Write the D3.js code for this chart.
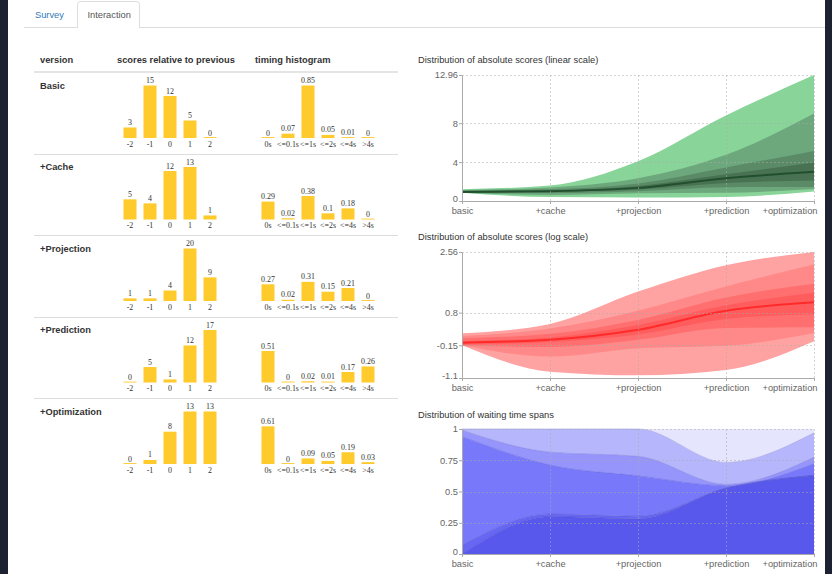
<!DOCTYPE html>
<html>
<head>
<meta charset="utf-8">
<script src="https://cdn.jsdelivr.net/npm/d3@7"></script>
<style>
  html, body { margin: 0; padding: 0; background: #fff; }
  svg { display: block; }
  .sans { font-family: "Liberation Sans", Arial, Helvetica, sans-serif; }
  .serif { font-family: "Liberation Serif", "Times New Roman", serif; }
</style>
</head>
<body>
<script>
// ---- data -------------------------------------------------------------
const versions = ["Basic", "+Cache", "+Projection", "+Prediction", "+Optimization"];
const scoreCategories = ["-2", "-1", "0", "1", "2"];
const scoreCounts = [
  [3, 15, 12, 5, 0],
  [5, 4, 12, 13, 1],
  [1, 1, 4, 20, 9],
  [0, 5, 1, 12, 17],
  [0, 1, 8, 13, 13]
];
const timingCategories = ["0s", "<=0.1s", "<=1s", "<=2s", "<=4s", ">4s"];
const timingShares = [
  [0, 0.07, 0.85, 0.05, 0.01, 0],
  [0.29, 0.02, 0.38, 0.1, 0.18, 0],
  [0.27, 0.02, 0.31, 0.15, 0.21, 0],
  [0.51, 0, 0.02, 0.01, 0.17, 0.26],
  [0.61, 0, 0.09, 0.05, 0.19, 0.03]
];
const stepLabels = ["basic", "+cache", "+projection", "+prediction", "+optimization"];
// quantiles of the absolute score per version: min, 10%, 25%, 40%, median, 60%, 75%, 90%, max
const quantileLevels = [0, 0.1, 0.25, 0.4, 0.5, 0.6, 0.75, 0.9, 1];
const scoreQuantiles = [
  [0.86, 0.86, 0.86, 0.88, 0.93, 0.97, 1.06, 1.13, 1.22],
  [0.40, 0.62, 0.82, 0.95, 1.01, 1.08, 1.20, 1.40, 1.60],
  [0.36, 0.79, 1.01, 1.18, 1.35, 1.55, 1.80, 2.35, 4.10],
  [0.42, 0.85, 1.42, 1.85, 2.35, 2.75, 3.45, 4.75, 8.80],
  [0.97, 1.23, 1.45, 2.12, 3.00, 3.95, 5.15, 9.00, 12.96]
];
const linearTicks = [0, 4, 8, 12.96];
const logTicks = [-1.1, -0.15, 0.8, 2.56];
const shareTicks = [0, 0.25, 0.5, 0.75, 1];

// ---- styling ----------------------------------------------------------
const barColor = "#ffca2c";
const greenBands = ["#88d499", "#6da87c", "#5a8b66", "#487252"];
const greenMedian = "#22502e";
const redBands = ["#ffa2a2", "#ff8888", "#ff6f6f", "#ff5d5d"];
const redMedian = "#ff2b2b";
const blueLayers = ["#5858ec", "#6767f3", "#7878fa", "#9595fc", "#b6b6fd", "#e5e5fe"];
const textColor = "#333";

const W = 832, H = 574;
const svg = d3.select("body").append("svg").attr("width", W).attr("height", H);

svg.append("rect").attr("width", W).attr("height", H).attr("fill", "#fff");

// dark frame on both sides
svg.append("rect").attr("x", 0).attr("y", 0).attr("width", 8).attr("height", H).attr("fill", "#1c2231");
svg.append("rect").attr("x", 825).attr("y", 0).attr("width", 7).attr("height", H).attr("fill", "#1c2231");

// ---- tabs -------------------------------------------------------------
svg.append("line").attr("x1", 24).attr("x2", 825).attr("y1", 27.5).attr("y2", 27.5)
  .attr("stroke", "#ddd");
svg.append("path")
  .attr("d", "M77.5,28V4.5Q77.5,1.5 80.5,1.5H136.5Q139.5,1.5 139.5,4.5V28")
  .attr("fill", "#fff").attr("stroke", "#ddd");
svg.append("rect").attr("x", 78).attr("y", 26).attr("width", 61).attr("height", 3).attr("fill", "#fff");
svg.append("text").attr("class", "sans").attr("x", 35).attr("y", 18)
  .attr("font-size", 9.3).style("fill", "#337ab7").text("Survey");
svg.append("text").attr("class", "sans").attr("x", 87.5).attr("y", 18)
  .attr("font-size", 9.3).style("fill", "#555").text("Interaction");

// ---- table ------------------------------------------------------------
const table = svg.append("g").attr("class", "sans");
const headers = [["version", 40], ["scores relative to previous", 117], ["timing histogram", 255]];
table.selectAll("text.head").data(headers).join("text")
  .attr("class", "head").attr("x", d => d[1]).attr("y", 63)
  .attr("font-size", 9.3).attr("font-weight", "bold").style("fill", textColor)
  .text(d => d[0]);

const headLine = 72, rowH = 81.5;
table.append("line").attr("x1", 34).attr("x2", 398).attr("y1", headLine).attr("y2", headLine)
  .attr("stroke", "#ddd").attr("stroke-width", 1.4);

const scoreX = d3.scaleBand().domain(scoreCategories).range([120, 220])
  .paddingInner(0.35).paddingOuter(0.175);
const timingX = d3.scaleBand().domain(timingCategories).range([258, 378])
  .paddingInner(0.35).paddingOuter(0.175);
const timingMax = d3.max(timingShares.flat());
const barMax = 52.5;

versions.forEach((name, i) => {
  const top = headLine + i * rowH;
  const base = top + 66;
  if (i > 0) {
    table.append("line").attr("x1", 34).attr("x2", 398)
      .attr("y1", Math.round(top) + 0.5).attr("y2", Math.round(top) + 0.5)
      .attr("stroke", "#ddd");
  }
  table.append("text").attr("x", 40).attr("y", top + 16.5)
    .attr("font-size", 9.3).attr("font-weight", "bold").style("fill", textColor).text(name);

  const sy = d3.scaleLinear().domain([0, d3.max(scoreCounts[i])]).range([base, base - barMax]);
  const ty = d3.scaleLinear().domain([0, timingMax]).range([base, base - barMax]);

  const drawBars = (g, cats, vals, xs, ys) => {
    const rows = cats.map((c, k) => ({ c, v: vals[k] }));
    g.selectAll("rect").data(rows).join("rect")
      .attr("x", d => xs(d.c)).attr("width", xs.bandwidth())
      .attr("y", d => Math.min(ys(d.v), base - 0.9))
      .attr("height", d => Math.max(base - ys(d.v), 0.9))
      .attr("fill", barColor);
    g.selectAll("text.val").data(rows).join("text")
      .attr("class", "val serif").attr("text-anchor", "middle")
      .attr("x", d => xs(d.c) + xs.bandwidth() / 2)
      .attr("y", d => ys(d.v) - 2.5)
      .attr("font-size", 7.9).style("fill", textColor).text(d => String(d.v));
    g.selectAll("text.cat").data(rows).join("text")
      .attr("class", "cat serif").attr("text-anchor", "middle")
      .attr("x", d => xs(d.c) + xs.bandwidth() / 2)
      .attr("y", base + 8.8)
      .attr("font-size", 7.9).style("fill", textColor).text(d => d.c);
  };
  drawBars(table.append("g"), scoreCategories, scoreCounts[i], scoreX, sy);
  drawBars(table.append("g"), timingCategories, timingShares[i], timingX, ty);
});

// ---- distribution charts ---------------------------------------------
const x = d3.scalePoint().domain(stepLabels).range([462, 814]);

function title(g, text, titleY) {
  g.append("text").attr("class", "sans").attr("x", 418).attr("y", titleY)
    .attr("font-size", 9.3).style("fill", textColor).text(text);
}

function overlay(g, y, ticks) {
  const [y0, y1] = y.range();
  const grid = g.append("g").attr("stroke", "#aaa").attr("stroke-opacity", 0.5)
    .attr("stroke-dasharray", "2,2").attr("fill", "none");
  grid.selectAll("line.h").data(ticks.slice(1)).join("line").attr("class", "h")
    .attr("x1", 462).attr("x2", 814)
    .attr("y1", d => Math.round(y(d)) + 0.5).attr("y2", d => Math.round(y(d)) + 0.5);
  grid.selectAll("line.v").data(stepLabels.slice(1)).join("line").attr("class", "v")
    .attr("x1", d => Math.round(x(d)) + 0.5).attr("x2", d => Math.round(x(d)) + 0.5)
    .attr("y1", y1).attr("y2", y0);

  const ya = g.append("g").attr("transform", "translate(462,0)")
    .call(d3.axisLeft(y).tickValues(ticks).tickFormat(d => String(d)).tickSize(3).tickPadding(1));
  const xa = g.append("g").attr("transform", `translate(0,${y0})`)
    .call(d3.axisBottom(x).tickSize(3).tickPadding(3));
  [ya, xa].forEach(a => {
    a.selectAll("path,line").attr("stroke", "#aaa");
    a.selectAll("text").style("fill", "#666").attr("font-size", 9.3)
      .attr("font-family", "\"Liberation Sans\", Arial, sans-serif");
  });
  // lift the lowest value label a little so it clears the first category label
  ya.selectAll(".tick text").filter(d => d === ticks[0]).attr("dy", "0.1em");
  xa.selectAll(".tick text").filter(d => d === stepLabels[stepLabels.length - 1])
    .attr("text-anchor", "end").attr("dx", 3);
}

// linear scale
const yLin = d3.scaleLinear().domain(d3.extent(linearTicks)).range([201, 75]);
const gLin = svg.append("g");
title(gLin, "Distribution of absolute scores (linear scale)", 63);
for (let b = 0; b < 4; b++) {
  const band = d3.area()
    .x((d, i) => x(stepLabels[i]))
    .y0(d => yLin(d[b])).y1(d => yLin(d[8 - b]))
    .curve(d3.curveMonotoneX);
  gLin.append("path").attr("d", band(scoreQuantiles)).attr("fill", greenBands[b]);
}
gLin.append("path")
  .attr("d", d3.line().x((d, i) => x(stepLabels[i])).y(d => yLin(d[4])).curve(d3.curveMonotoneX)(scoreQuantiles))
  .attr("fill", "none").attr("stroke", greenMedian).attr("stroke-width", 2);
overlay(gLin, yLin, linearTicks);

// log scale
const yLog = d3.scaleLinear().domain(d3.extent(logTicks)).range([378, 252]);
const gLog = svg.append("g");
title(gLog, "Distribution of absolute scores (log scale)", 240);
for (let b = 0; b < 4; b++) {
  const band = d3.area()
    .x((d, i) => x(stepLabels[i]))
    .y0(d => yLog(Math.log(d[b]))).y1(d => yLog(Math.log(d[8 - b])))
    .curve(d3.curveMonotoneX);
  gLog.append("path").attr("d", band(scoreQuantiles)).attr("fill", redBands[b]);
}
gLog.append("path")
  .attr("d", d3.line().x((d, i) => x(stepLabels[i])).y(d => yLog(Math.log(d[4]))).curve(d3.curveMonotoneX)(scoreQuantiles))
  .attr("fill", "none").attr("stroke", redMedian).attr("stroke-width", 2);
overlay(gLog, yLog, logTicks);

// waiting time shares, stacked and normalised per version
const yShare = d3.scaleLinear().domain(d3.extent(shareTicks)).range([554, 429]);
const gShare = svg.append("g");
title(gShare, "Distribution of waiting time spans", 418);
const layers = d3.stack().keys(d3.range(timingCategories.length))
  .value((d, k) => d[k]).offset(d3.stackOffsetExpand)(timingShares);
const layerArea = d3.area()
  .x((d, i) => x(stepLabels[i]))
  .y0(d => yShare(d[0])).y1(d => yShare(d[1]))
  .curve(d3.curveMonotoneX);
const layerTop = d3.line()
  .x((d, i) => x(stepLabels[i])).y(d => yShare(d[1]))
  .curve(d3.curveMonotoneX);
layers.forEach((layer, k) => {
  gShare.append("path").attr("d", layerArea(layer)).attr("fill", blueLayers[k]);
});
layers.forEach((layer, k) => {
  if (k === layers.length - 1) return;
  gShare.append("path").attr("d", layerTop(layer)).attr("fill", "none")
    .attr("stroke", d3.color(blueLayers[k]).darker(0.35)).attr("stroke-opacity", 0.6);
});
overlay(gShare, yShare, shareTicks);
</script>
</body>
</html>
